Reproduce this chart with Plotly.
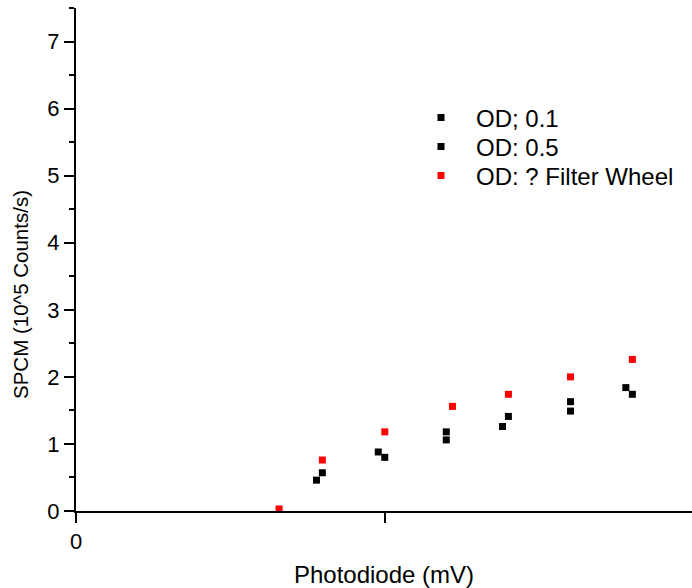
import plotly.graph_objects as go

# OD; 0.1 series
od01_x = [7.78, 9.78, 11.98, 13.80, 16.00, 17.79]
od01_y = [0.46, 0.88, 1.18, 1.26, 1.63, 1.84]
# OD: 0.5 series
od05_x = [7.97, 9.99, 11.98, 13.99, 16.00, 18.00]
od05_y = [0.57, 0.80, 1.06, 1.41, 1.49, 1.74]
# OD: ? Filter Wheel series
fw_x = [6.57, 7.97, 9.99, 12.18, 13.99, 16.00, 18.00, 20.00]
fw_y = [0.03, 0.76, 1.18, 1.56, 1.74, 2.00, 2.26, 2.41]

names = ["OD; 0.1", "OD: 0.5", "OD: ? Filter Wheel"]
x_tickvals = [0, 10]
x_ticktext = ["0", ""]
y_tickvals = [0, 1, 2, 3, 4, 5, 6, 7]

FONT = "Liberation Sans, Arial, sans-serif"

fig = go.Figure()
series = [(od01_x, od01_y, "black", "legend"),
          (od05_x, od05_y, "black", "legend2"),
          (fw_x, fw_y, "#ff0000", "legend3")]
for (xs, ys, col, lg), nm in zip(series, names):
    fig.add_trace(go.Scatter(
        x=xs, y=ys, mode="markers", name=nm, legend=lg,
        marker=dict(symbol="square", size=7, color=col, line=dict(width=0)),
        cliponaxis=False,
    ))

leg_common = dict(font=dict(family=FONT, size=24, color="black"),
                  bgcolor="rgba(0,0,0,0)", borderwidth=0,
                  itemwidth=60, xanchor="left", yanchor="middle",
                  x=(406 - 76) / 616)
fig.update_layout(
    width=692, height=588,
    margin=dict(l=76, r=0, t=8, b=77),
    paper_bgcolor="white", plot_bgcolor="white",
    font=dict(family=FONT, color="black"),
    showlegend=True,
    legend=dict(**leg_common, y=(511 - 118) / 503),
    legend2=dict(**leg_common, y=(511 - 147) / 503),
    legend3=dict(**leg_common, y=(511 - 176) / 503),
    xaxis=dict(
        range=[0, 19.93], showgrid=False, zeroline=False,
        showline=True, linecolor="black", linewidth=2,
        ticks="outside", ticklen=10, tickwidth=2, tickcolor="black",
        tickvals=x_tickvals, ticktext=x_ticktext,
        tickfont=dict(family=FONT, size=22, color="black"),
        title=dict(text="Photodiode (mV)", standoff=14,
                   font=dict(family=FONT, size=24, color="black")),
    ),
    yaxis=dict(
        range=[0, 7.5], showgrid=False, zeroline=False,
        showline=True, linecolor="black", linewidth=2,
        ticks="outside", ticklen=10, tickwidth=2, tickcolor="black",
        tickvals=y_tickvals,
        tickfont=dict(family=FONT, size=22, color="black"),
        minor=dict(ticks="outside", ticklen=5, tickwidth=2, tickcolor="black", dtick=0.5, showgrid=False),
    ),
    annotations=[dict(
        text="SPCM (10^5 Counts/s)", textangle=-90,
        xref="paper", yref="paper", x=-56 / 616, y=(511 - 295) / 503,
        xanchor="center", yanchor="middle", showarrow=False,
        font=dict(family=FONT, size=20.5, color="black"),
    )],
)
fig.write_html("out.html")
